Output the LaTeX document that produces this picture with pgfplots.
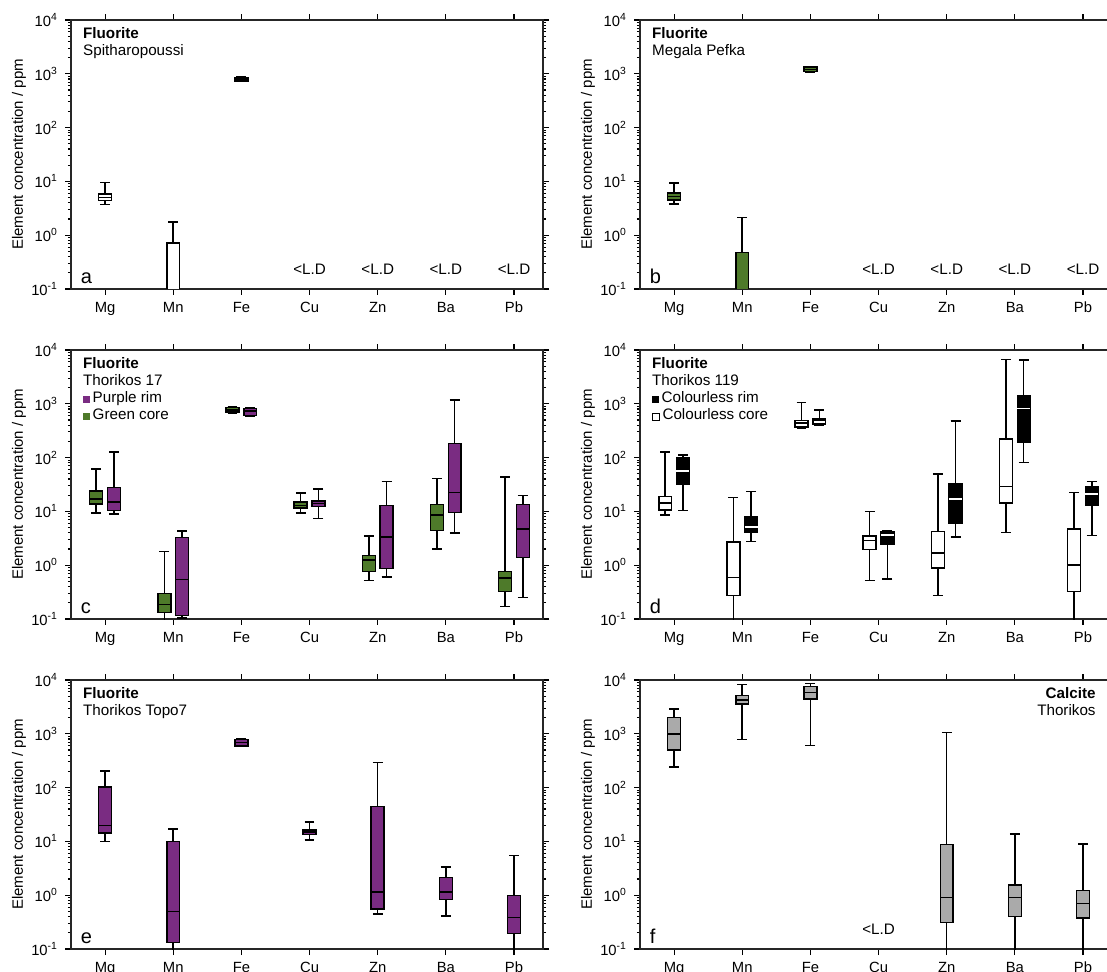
\documentclass[border=0pt]{standalone}
\usepackage{fontspec}
\setmainfont{Liberation Sans}
\usepackage{pgfplots}
\usepackage{pgfplotstable}
\usepgfplotslibrary{statistics}
\pgfplotsset{compat=1.18}
\definecolor{purp}{RGB}{122,44,130}
\definecolor{grn}{RGB}{78,122,42}
\definecolor{gry}{RGB}{170,170,170}

% columns: lower whisker, lower quartile, median, upper quartile, upper whisker
\pgfplotstableread{
lw lq med uq uw
3.7 4.4 5.0 5.8 9.5
0.02 0.03 0.04 0.71 1.75
715 730 795 860 875
}\tabA
\pgfplotstableread{
lw lq med uq uw
3.8 4.55 5.25 6.05 9.4
0.02 0.03 0.04 0.48 2.14
1080 1100 1210 1330 1350
}\tabB
\pgfplotstableread{
lw lq med uq uw
9.3 13.6 17.1 24 61
0.09 0.133 0.185 0.30 1.8
670 697 770 850 885
9.4 11.5 12.9 14.9 21.8
0.515 0.757 1.26 1.5 3.47
2.02 4.43 8.65 13.3 40.8
0.169 0.327 0.577 0.767 43.9
}\tabCgreen
\pgfplotstableread{
lw lq med uq uw
8.9 10.4 15.1 28 128
0.105 0.117 0.54 3.24 4.3
578 612 738 815 835
7.4 12.4 14.0 15.5 25.9
0.61 0.87 3.33 12.9 36
3.95 9.55 22.5 182 1180
0.252 1.38 4.69 13.4 19.8
}\tabCpurple
\pgfplotstableread{
lw lq med uq uw
8.65 10.7 14.2 18.9 126
0.02 0.275 0.594 2.69 18.1
356 367 435 488 1050
0.515 1.94 2.89 3.52 10
0.271 0.885 1.68 4.2 49.9
4.06 14.2 29 220 6710
0.02 0.327 1.0 4.69 22.5
}\tabDcore
\pgfplotstableread{
lw lq med uq uw
10.5 32 56.7 100 112
2.77 4.06 5.1 7.83 23.5
405 417 501 531 770
0.553 2.47 3.68 4.2 4.36
3.33 6.05 16.9 32 481
81 196 815 1400 6500
3.57 12.9 20.9 29 36
}\tabDrim
\pgfplotstableread{
lw lq med uq uw
10 14.2 19.8 102 205
0.02 0.133 0.5 10 17.1
580 595 687 792 820
10.7 13.3 15.1 16.4 22.8
0.447 0.553 1.14 44.5 292
0.41 0.824 1.14 2.14 3.38
0.02 0.193 0.387 0.99 5.48
}\tabE
\pgfplotstableread{
lw lq med uq uw
243 501 1000 2000 2900
792 3580 4250 5120 8300
612 4440 5900 7520 8700
0.02 0.313 0.897 8.77 1067
0.02 0.404 0.91 1.54 13.6
0.02 0.376 0.705 1.23 9.02
}\tabF

\pgfplotsset{
  scale only axis, width=236pt, height=134.5pt,
  ymin=0.1, ymax=10000,
  xmin=-0.5, xmax=6.425,
  xtick={0,1,2,3,4,5,6},
  xticklabels={Mg,Mn,Fe,Cu,Zn,Ba,Pb},
  ytick={0.1,1,10,100,1000,10000},
  yticklabels={10\textsuperscript{-1},10\textsuperscript{0},10\textsuperscript{1},10\textsuperscript{2},10\textsuperscript{3},10\textsuperscript{4}},
  minor ytick={0.2,0.3,0.4,0.5,0.6,0.7,0.8,0.9,2,3,4,5,6,7,8,9,20,30,40,50,60,70,80,90,200,300,400,500,600,700,800,900,2000,3000,4000,5000,6000,7000,8000,9000},
  tick align=outside,
  major tick length=3pt, minor tick length=1.6pt,
  every tick/.style={black, line width=0.55pt},
  axis line style={black!85, line width=0.8pt},
  tick label style={font=\fontsize{7.4}{8}\selectfont},
  ylabel={Element concentration / ppm},
  every axis y label/.style={at={(rel axis cs:0,0.5)}, xshift=-26pt, rotate=90, anchor=center, font=\fontsize{7.5}{9}\selectfont},
  boxplot/draw direction=y,
}

\tikzset{
  myttl/.style={anchor=north west, align=left, inner sep=0pt, font=\fontsize{7.6}{8.6}\selectfont},
  mylett/.style={anchor=south west, inner sep=0pt, font=\fontsize{10}{10}\selectfont},
  myld/.style={font=\fontsize{7.6}{9}\selectfont, inner sep=0pt},
}

% #1 fill colour, #2 median colour, #3 table, #4 row, #5 draw position
\newcommand\BX[5]{%
  \pgfplotstablegetelem{#4}{lw}\of#3\let\vlw\pgfplotsretval
  \pgfplotstablegetelem{#4}{lq}\of#3\let\vlq\pgfplotsretval
  \pgfplotstablegetelem{#4}{med}\of#3\let\vmed\pgfplotsretval
  \pgfplotstablegetelem{#4}{uq}\of#3\let\vuq\pgfplotsretval
  \pgfplotstablegetelem{#4}{uw}\of#3\let\vuw\pgfplotsretval
  \edef\tmpbx{\noexpand\addplot[draw=black, fill=#1, line width=0.75pt, solid, mark=none,
    boxplot/box extend=0.19, boxplot/whisker extend=0.145,
    boxplot/every median/.style={draw=#2, line width=0.75pt},
    boxplot prepared={draw position=#5,
    lower whisker=\vlw, lower quartile=\vlq, median=\vmed,
    upper quartile=\vuq, upper whisker=\vuw}] coordinates {};}%
  \tmpbx}

\newcommand\sqfill[1]{\textcolor{#1}{\rule{3.5pt}{3.5pt}}}
\newcommand\sqopen{{\setlength\fboxsep{0pt}\setlength\fboxrule{0.4pt}\fbox{\rule{0pt}{3.1pt}\hspace{3.1pt}}}}

\begin{document}
\begin{tikzpicture}
\useasboundingbox (0,0) rectangle (553.5pt,-486pt);

% ---------- a ----------
\begin{semilogyaxis}[at={(35.5pt,-10pt)}, anchor=north west]
\BX{white}{black}{\tabA}{0}{0}
\BX{white}{black}{\tabA}{1}{1}
\BX{white}{black}{\tabA}{2}{2}
\node[myttl] at (rel axis cs:0.025,0.975) {\textbf{Fluorite}\\Spitharopoussi};
\node[mylett] at (rel axis cs:0.02,0.02) {a};
\node[myld] at (axis cs:3,0.23) {<L.D};
\node[myld] at (axis cs:4,0.23) {<L.D};
\node[myld] at (axis cs:5,0.23) {<L.D};
\node[myld] at (axis cs:6,0.23) {<L.D};
\end{semilogyaxis}

% ---------- b ----------
\begin{semilogyaxis}[at={(320pt,-10pt)}, anchor=north west]
\BX{grn}{black}{\tabB}{0}{0}
\BX{grn}{black}{\tabB}{1}{1}
\BX{grn}{black}{\tabB}{2}{2}
\node[myttl] at (rel axis cs:0.025,0.975) {\textbf{Fluorite}\\Megala Pefka};
\node[mylett] at (rel axis cs:0.02,0.02) {b};
\node[myld] at (axis cs:3,0.23) {<L.D};
\node[myld] at (axis cs:4,0.23) {<L.D};
\node[myld] at (axis cs:5,0.23) {<L.D};
\node[myld] at (axis cs:6,0.23) {<L.D};
\end{semilogyaxis}

% ---------- c ----------
\begin{semilogyaxis}[at={(35.5pt,-175pt)}, anchor=north west]
\BX{grn}{black}{\tabCgreen}{0}{-0.13}
\BX{grn}{black}{\tabCgreen}{1}{0.87}
\BX{grn}{black}{\tabCgreen}{2}{1.87}
\BX{grn}{black}{\tabCgreen}{3}{2.87}
\BX{grn}{black}{\tabCgreen}{4}{3.87}
\BX{grn}{black}{\tabCgreen}{5}{4.87}
\BX{grn}{black}{\tabCgreen}{6}{5.87}
\BX{purp}{black}{\tabCpurple}{0}{0.13}
\BX{purp}{black}{\tabCpurple}{1}{1.13}
\BX{purp}{black}{\tabCpurple}{2}{2.13}
\BX{purp}{black}{\tabCpurple}{3}{3.13}
\BX{purp}{black}{\tabCpurple}{4}{4.13}
\BX{purp}{black}{\tabCpurple}{5}{5.13}
\BX{purp}{black}{\tabCpurple}{6}{6.13}
\node[myttl] at (rel axis cs:0.025,0.975) {\textbf{Fluorite}\\Thorikos 17\\\sqfill{purp}\,Purple rim\\\sqfill{grn}\,Green core};
\node[mylett] at (rel axis cs:0.02,0.02) {c};
\end{semilogyaxis}

% ---------- d ----------
\begin{semilogyaxis}[at={(320pt,-175pt)}, anchor=north west]
\BX{white}{black}{\tabDcore}{0}{-0.13}
\BX{white}{black}{\tabDcore}{1}{0.87}
\BX{white}{black}{\tabDcore}{2}{1.87}
\BX{white}{black}{\tabDcore}{3}{2.87}
\BX{white}{black}{\tabDcore}{4}{3.87}
\BX{white}{black}{\tabDcore}{5}{4.87}
\BX{white}{black}{\tabDcore}{6}{5.87}
\BX{black}{white}{\tabDrim}{0}{0.13}
\BX{black}{white}{\tabDrim}{1}{1.13}
\BX{white}{black}{\tabDrim}{2}{2.13}
\BX{black}{white}{\tabDrim}{3}{3.13}
\BX{black}{white}{\tabDrim}{4}{4.13}
\BX{black}{white}{\tabDrim}{5}{5.13}
\BX{black}{white}{\tabDrim}{6}{6.13}
\node[myttl] at (rel axis cs:0.025,0.975) {\textbf{Fluorite}\\Thorikos 119\\\sqfill{black}\,Colourless rim\\\sqopen\,Colourless core};
\node[mylett] at (rel axis cs:0.02,0.02) {d};
\end{semilogyaxis}

% ---------- e ----------
\begin{semilogyaxis}[at={(35.5pt,-340pt)}, anchor=north west]
\BX{purp}{black}{\tabE}{0}{0}
\BX{purp}{black}{\tabE}{1}{1}
\BX{purp}{black}{\tabE}{2}{2}
\BX{purp}{black}{\tabE}{3}{3}
\BX{purp}{black}{\tabE}{4}{4}
\BX{purp}{black}{\tabE}{5}{5}
\BX{purp}{black}{\tabE}{6}{6}
\node[myttl] at (rel axis cs:0.025,0.975) {\textbf{Fluorite}\\Thorikos Topo7};
\node[mylett] at (rel axis cs:0.02,0.02) {e};
\end{semilogyaxis}

% ---------- f ----------
\begin{semilogyaxis}[at={(320pt,-340pt)}, anchor=north west]
\BX{gry}{black}{\tabF}{0}{0}
\BX{gry}{black}{\tabF}{1}{1}
\BX{gry}{black}{\tabF}{2}{2}
\BX{gry}{black}{\tabF}{3}{4}
\BX{gry}{black}{\tabF}{4}{5}
\BX{gry}{black}{\tabF}{5}{6}
\node[myttl, anchor=north east, align=right] at (rel axis cs:0.966,0.975) {\textbf{Calcite}\\Thorikos};
\node[mylett] at (rel axis cs:0.02,0.02) {f};
\node[myld] at (axis cs:3,0.23) {<L.D};
\end{semilogyaxis}
\end{tikzpicture}
\end{document}
